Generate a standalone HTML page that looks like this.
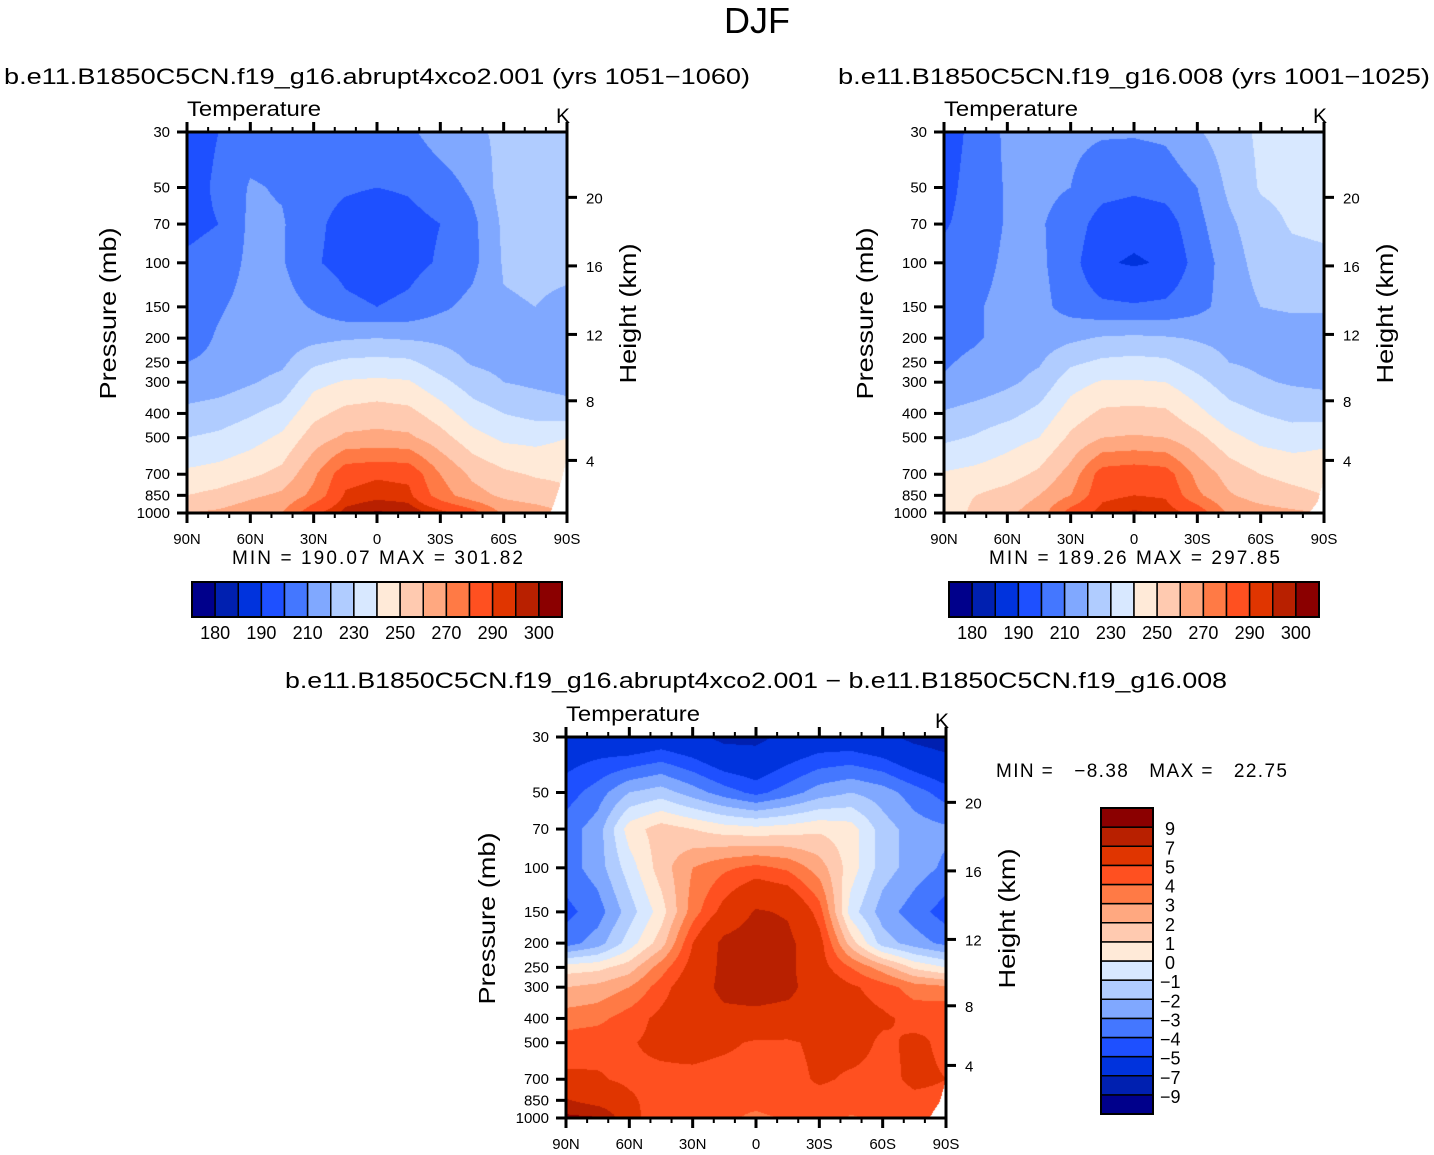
<!DOCTYPE html>
<html><head><meta charset="utf-8">
<style>
html,body{margin:0;padding:0;background:#fff;}
#wrap{position:relative;width:1434px;height:1155px;overflow:hidden;}
canvas{position:absolute;}
svg{position:absolute;left:0;top:0;}
text{font-family:"Liberation Sans",sans-serif;fill:#000;}
</style></head>
<body>
<div id="wrap">
<canvas id="c1" width="380" height="381" style="left:187px;top:132px"></canvas>
<canvas id="c2" width="380" height="381" style="left:944px;top:132px"></canvas>
<canvas id="c3" width="380" height="381" style="left:566px;top:737px"></canvas>
<svg id="svg" width="1434" height="1155" xmlns="http://www.w3.org/2000/svg">
<text x="757" y="33" font-size="36" text-anchor="middle" font-weight="300">DJF</text>
<text x="4" y="84" font-size="22" textLength="746" lengthAdjust="spacingAndGlyphs">b.e11.B1850C5CN.f19_g16.abrupt4xco2.001 (yrs 1051−1060)</text>
<text x="838" y="84" font-size="22" textLength="592" lengthAdjust="spacingAndGlyphs">b.e11.B1850C5CN.f19_g16.008 (yrs 1001−1025)</text>
<text x="285" y="688" font-size="22" textLength="942" lengthAdjust="spacingAndGlyphs">b.e11.B1850C5CN.f19_g16.abrupt4xco2.001 − b.e11.B1850C5CN.f19_g16.008</text>
<text x="996" y="777" font-size="19" textLength="291" lengthAdjust="spacing" xml:space="preserve">MIN =   −8.38   MAX =   22.75</text>
</svg>
</div>
<script>
// ---- data ----
const LATS = ['90N','75N','60N','45N','30N','15N','0','15S','30S','45S','60S','75S','90S'];
const PLEV = [30,50,70,100,150,200,250,300,400,500,700,850,1000];
const T1 = [
 [195,200,205,205,205,205,205,208,215,218,222,223,223],
 [195,202,211,209,203,201,200,201,205,212,224,224,224],
 [197,200,212,211,202,197,195,197,200,207,222,223,223],
 [202,205,212,211,201,197,195,197,201,207,221,222,222],
 [205,209,213,214,209,202,200,202,208,213,219,220,218],
 [206,211,214,215,217,219,220,219,218,216,215,214,214],
 [210,212,216,218,228,232,233,232,225,219,217,216,215],
 [213,215,219,223,237,241,242,241,233,225,220,218,216],
 [223,225,229,234,247,253,255,253,245,235,230,227,225],
 [230,232,236,242,255,262,263,262,254,244,238,237,240],
 [242,244,248,253,268,287,289,288,270,258,252,249,248],
 [250,253,258,262,273,291,293,292,275,264,258,255,252],
 [260,262,266,270,288,297,301,299,293,285,268,265,260]];
const T2 = [
 [195,203,212,212,212,211,211,212,219,225,232,233,233],
 [197,204,211,212,210,204,202,204,210,222,231,233,234],
 [199,204,211,211,206,195,193,195,207,218,226,231,232],
 [203,206,212,212,204,191,189,191,204,215,224,227,228],
 [206,209,213,213,206,202,201,202,207,214,220,221,221],
 [207,209,213,215,218,221,222,221,219,217,216,216,216],
 [209,212,216,219,228,232,233,232,226,220,218,217,217],
 [211,214,218,223,236,241,241,240,233,225,221,219,218],
 [221,224,227,233,245,252,253,252,243,234,230,227,226],
 [228,231,236,240,252,260,261,260,253,243,237,235,238],
 [241,243,246,252,264,285,287,285,267,256,250,247,245],
 [246,250,254,260,270,288,290,289,272,261,256,253,250],
 [245,252,258,265,285,293,296,294,287,268,264,262,260]];
const D3 = [
 [-6,-6,-6.5,-6,-6.5,-7.5,-7.5,-6.5,-6,-6,-6.5,-7.5,-8],
 [-4.5,-3.5,-2,-1.5,-2.5,-3.5,-4.3,-3.5,-2.5,-2,-2.5,-3.5,-4.5],
 [-3.5,-2.5,0.5,1.5,1,0.5,0.3,0.5,0.8,0.5,-1.5,-2.5,-2.8],
 [-3.5,-2.5,-0.5,1.5,3,3.8,4.3,3.8,2.5,0.5,-1.5,-2.5,-3.2],
 [-4.3,-3.5,-1.5,0.5,3.5,5.5,7.2,6.8,4.5,-0.5,-2.5,-3.5,-4.5],
 [-3.5,-2.5,-0.5,1.5,5,7.5,8,7.5,5.5,1.5,-1.5,-2.5,-3.3],
 [0.5,0.7,1.5,3.5,5.5,7.5,8,7.5,5.5,4,2.5,0.8,0],
 [2,2.3,3,4.5,6,7.5,7.8,7.5,6,5.2,4.5,3.5,3.2],
 [3.5,3.7,4.5,5.3,6,6.5,6.5,6.3,6,5.5,5.2,4.7,5],
 [4.5,4.7,4.9,5.3,5.6,5.3,4.8,4.8,5.3,5.5,4.8,5.2,4.8],
 [5.2,5.1,4.8,4.7,4.6,4.4,4.3,4.5,5.2,4.8,4.7,5.2,5],
 [7.2,6,5.2,4.5,4.3,4.2,4.3,4.5,4.5,4.4,4.5,4.8,4.8],
 [9.5,9.2,5.5,4.2,4,4.2,3.8,4.1,4.5,3.9,4.2,4.5,4.5]];
// surface pressure (topography mask) at given latitudes (deg, + = N)
const PS_LAT1 = [90,-82,-85,-90]; const PS1 = [1000,1000,860,600];
const PS_LAT2 = [90,-83,-87,-90]; const PS2 = [1000,1000,900,720];
const PS_LAT3 = [90,-82,-87,-90]; const PS3 = [1000,1000,860,700];
const LEV_T = [180,185,190,200,210,220,230,240,250,260,270,280,290,295,300];
const LEV_D = [-9,-7,-5,-4,-3,-2,-1,0,1,2,3,4,5,7,9];
const COLORS = ['#00008B','#0020B0','#0033DD','#1E50FF','#4477FF','#80A8FF','#B0CCFF','#D8E8FF',
  '#FFEAD8','#FFCAB0','#FFA880','#FF7A45','#FF5020','#E03500','#B82000','#8B0000'];
const HT_TICKS = [4,8,12,16,20];
const LAT_LABELS = ['90N','60N','30N','0','30S','60S','90S'];

// ---- scales ----
const W = 380, H = 381;
const LP0 = Math.log(30), LP1 = Math.log(1000);
function yOfP(p){ return (Math.log(p)-LP0)/(LP1-LP0)*H; }
function pOfY(y){ return Math.exp(LP0 + y/H*(LP1-LP0)); }
function latOfX(x){ return 90 - x/W*180; }
function pOfZ(z){ const m=z*1000; return m<11000 ? 1013.25*Math.pow(1-2.2558e-5*m,5.2559) : 226.32*Math.exp(-(m-11000)/6341.6); }

function hex(c){ return [parseInt(c.substr(1,2),16),parseInt(c.substr(3,2),16),parseInt(c.substr(5,2),16)]; }
const RGB = COLORS.map(hex);
function levelIndex(v, lev){ let k=0; while(k<lev.length && v>=lev[k]) k++; return k; }
function psAt(lat, plat, ps){
  for(let i=0;i<plat.length-1;i++){
    if(lat<=plat[i] && lat>=plat[i+1]){ const t=(plat[i]-lat)/(plat[i]-plat[i+1]); return ps[i]*(1-t)+ps[i+1]*t; }
  }
  return ps[ps.length-1];
}

function drawField(id, grid, lev, plat, ps){
  const cv=document.getElementById(id), ctx=cv.getContext('2d');
  const img=ctx.createImageData(W,H); const d=img.data;
  const lp = PLEV.map(p=>Math.log(p));
  const nc=LATS.length;
  for(let y=0;y<H;y++){
    const p=pOfY(y+0.5), l=Math.log(p);
    let r=0; while(r<PLEV.length-2 && l>lp[r+1]) r++;
    let ty=(l-lp[r])/(lp[r+1]-lp[r]); ty=Math.max(0,Math.min(1,ty));
    for(let x=0;x<W;x++){
      const fc=(x+0.5)/W*(nc-1); let c=Math.min(nc-2,Math.floor(fc)); const tx=fc-c;
      const psx = psAt(latOfX(x+0.5), plat, ps);
      const o=(y*W+x)*4;
      if(p>psx){ d[o]=255;d[o+1]=255;d[o+2]=255;d[o+3]=255; continue; }
      const v=(grid[r][c]*(1-tx)+grid[r][c+1]*tx)*(1-ty)+(grid[r+1][c]*(1-tx)+grid[r+1][c+1]*tx)*ty;
      const k=levelIndex(v,lev); const col=RGB[k];
      d[o]=col[0];d[o+1]=col[1];d[o+2]=col[2];d[o+3]=255;
    }
  }
  ctx.putImageData(img,0,0);
}
drawField('c1',T1,LEV_T,PS_LAT1,PS1);
drawField('c2',T2,LEV_T,PS_LAT2,PS2);
drawField('c3',D3,LEV_D,PS_LAT3,PS3);

// ---- axes ----
const NS='http://www.w3.org/2000/svg';
const svg=document.getElementById('svg');
function el(tag,attrs,parent){ const e=document.createElementNS(NS,tag); for(const k in attrs) e.setAttribute(k,attrs[k]); (parent||svg).appendChild(e); return e; }

function drawAxes(x0,y0,tag){
  const g=el('g',{});
  
  
  const fr=el('rect',{x:x0,y:y0,width:W,height:H,fill:'none',stroke:'#000','stroke-width':3},g);
  
  
  for(let deg=0;deg<=180;deg+=10){
    const x=x0+deg/180*W; const maj=deg%30===0;
    el('line',{x1:x,x2:x,y1:y0+H,y2:y0+H+(maj?10:5),stroke:'#000','stroke-width':maj?3:2},g);
    el('line',{x1:x,x2:x,y1:y0,y2:y0-(maj?10:5),stroke:'#000','stroke-width':maj?3:2},g);
  }
  LAT_LABELS.forEach((lab,i)=>{
    const t=el('text',{x:x0+i*W/6,y:y0+H+31,'font-size':15,'text-anchor':'middle'},g);
    t.textContent=lab;
    
    
  });
  PLEV.forEach(p=>{
    const y=y0+yOfP(p);
    el('line',{x1:x0-10,x2:x0,y1:y,y2:y,stroke:'#000','stroke-width':3},g);
    const t=el('text',{x:x0-17,y:y+5,'font-size':15,'text-anchor':'end'},g);
    t.textContent=p;
    
    
  });
  HT_TICKS.forEach(z=>{
    const y=y0+yOfP(pOfZ(z));
    el('line',{x1:x0+W,x2:x0+W+10,y1:y,y2:y,stroke:'#000','stroke-width':3},g);
    const t=el('text',{x:x0+W+19,y:y+6,'font-size':15},g);
    t.textContent=z;
    
    
  });
  const tt=el('text',{x:x0,y:y0-16,'font-size':21,textLength:134,lengthAdjust:'spacingAndGlyphs'},g); tt.textContent='Temperature';
  
  
  const kk=el('text',{x:x0+W-4,y:y0-9,'font-size':21,'text-anchor':'middle'},g); kk.textContent='K';
  
  
  const yl=el('text',{x:0,y:0,'font-size':23,'text-anchor':'middle',textLength:172,lengthAdjust:'spacingAndGlyphs',transform:`translate(${x0-71},${y0+H/2-9}) rotate(-90)`},g);
  yl.textContent='Pressure  (mb)';
  
  
  const hl=el('text',{x:0,y:0,'font-size':23,'text-anchor':'middle',textLength:140,lengthAdjust:'spacingAndGlyphs',transform:`translate(${x0+W+69},${y0+H/2-9}) rotate(-90)`},g);
  hl.textContent='Height  (km)';
  
  
}
drawAxes(187,132,'panel-1');
drawAxes(944,132,'panel-2');
drawAxes(566,737,'diff-panel');

function minmax(x,y,txt,tag){
  const t=el('text',{x:x,y:y,'font-size':19,textLength:291,lengthAdjust:'spacing'}); t.textContent=txt;
  t.setAttribute('xml:space','preserve');
  
  
}
minmax(232,564,'MIN  =  190.07   MAX  =  301.82','panel-1');
minmax(989,564,'MIN  =  189.26   MAX  =  297.85','panel-2');

function hbar(x0,y0,tag){
  const bw=370/16;
  COLORS.forEach((c,i)=>{
    const r=el('rect',{x:x0+i*bw,y:y0,width:bw,height:35,fill:c,stroke:'#000','stroke-width':1.5});
    
    
  });
  el('rect',{x:x0,y:y0,width:370,height:35,fill:'none',stroke:'#000','stroke-width':2});
  LEV_T.forEach((v,i)=>{
    if(i%2) return;
    const t=el('text',{x:x0+(i+1)*bw,y:y0+57,'font-size':18,'text-anchor':'middle'}); t.textContent=v;
    
    
  });
}
hbar(192,582,'panel-1');
hbar(949,582,'panel-2');

(function vbar(){
  const x0=1101,y0=808,bh=306/16;
  COLORS.forEach((c,i)=>{
    const r=el('rect',{x:x0,y:y0+(15-i)*bh,width:52,height:bh,fill:c,stroke:'#000','stroke-width':1.5});
    
    
  });
  el('rect',{x:x0,y:y0,width:52,height:306,fill:'none',stroke:'#000','stroke-width':2});
  LEV_D.forEach((v,i)=>{
    const y=y0+(15-i)*bh;
    const t=el('text',{x:v<0?1160:1165,y:y+8,'font-size':18}); t.textContent=v<0?'−'+(-v):String(v);
    
    
  });
})();
</script>
</body></html>
